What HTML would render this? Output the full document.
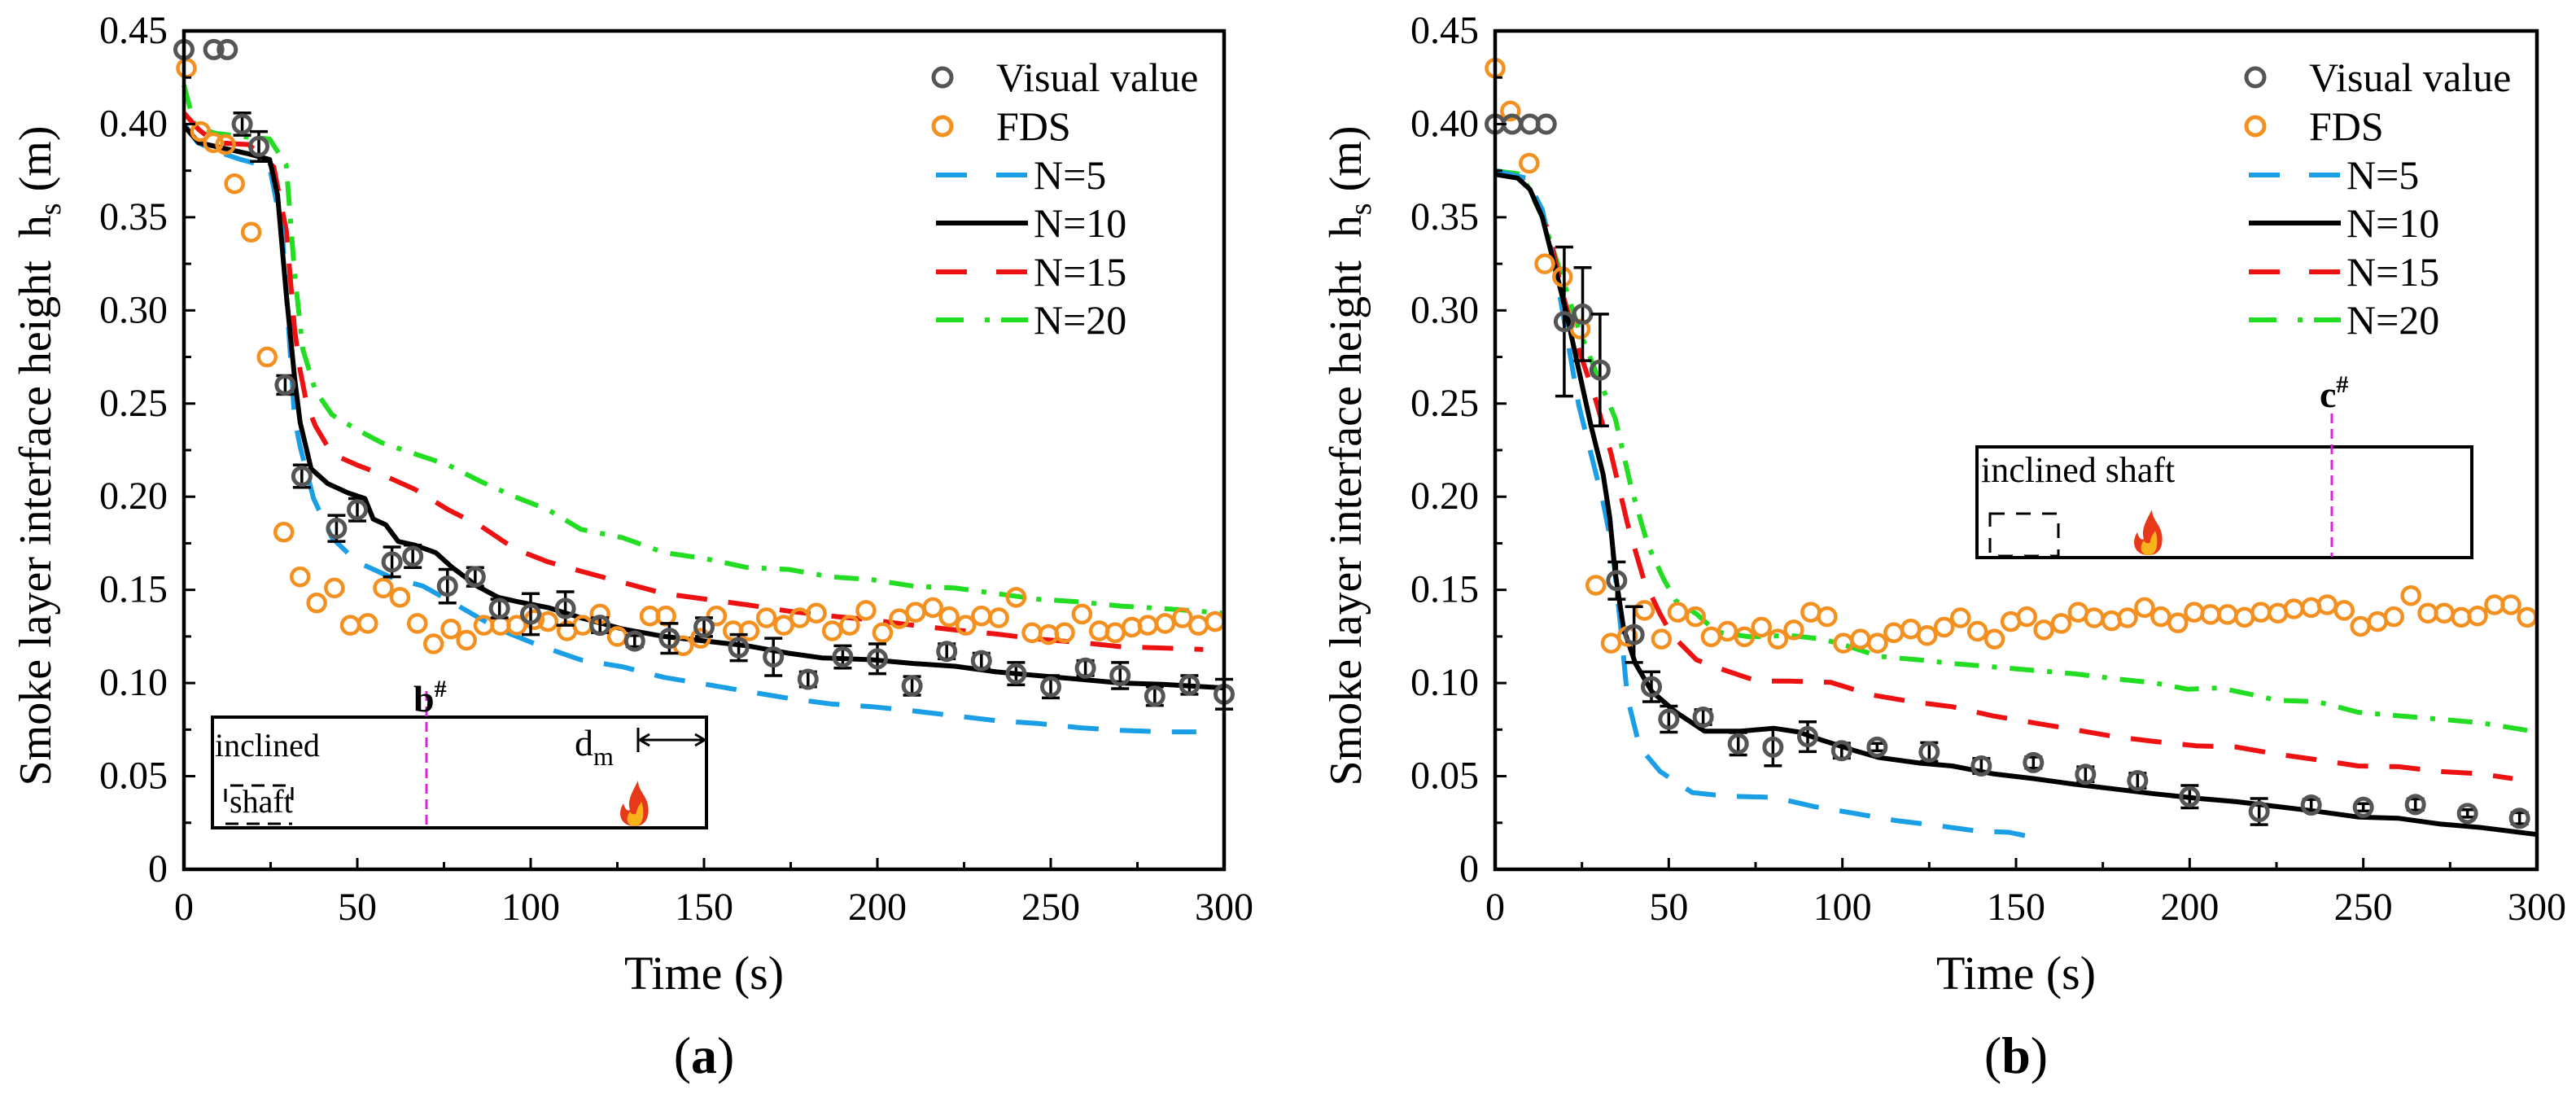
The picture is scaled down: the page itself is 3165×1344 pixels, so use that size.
<!DOCTYPE html>
<html><head><meta charset="utf-8"><style>
html,body{margin:0;padding:0;background:#fff;}
svg{display:block;font-family:"Liberation Serif",serif;}
text{font-family:"Liberation Serif",serif;}
</style></head><body>
<svg id="fig" width="3165" height="1344" viewBox="0 0 3165 1344" xmlns="http://www.w3.org/2000/svg" font-family="Liberation Serif, serif"></svg>
<script>
// ---------- Panel (a) data ----------
const aVisT=[0,8.6,12.5,16.8,21.6,29.2,34,44,50,60,66,76,84,91,100,110,120,130,140,150,160,170,180,190,200,210,220,230,240,250,260,270,280,290,300];
const aVisH=[0.44,0.44,0.44,0.40,0.388,0.26,0.211,0.183,0.193,0.165,0.168,0.152,0.157,0.140,0.137,0.140,0.131,0.1225,0.124,0.130,0.119,0.114,0.102,0.114,0.113,0.0985,0.117,0.112,0.105,0.098,0.108,0.104,0.093,0.099,0.094];
const aVisE=[0,0,0,0.006,0.008,0.005,0.006,0.007,0.006,0.008,0.006,0.009,0.005,0.005,0.011,0.009,0.004,0.003,0.008,0.005,0.007,0.01,0.004,0.006,0.008,0.005,0.004,0.004,0.006,0.006,0.004,0.007,0.005,0.005,0.008];
const aFdsT=[0.7,4.8,8.5,12,14.6,19.4,24,28.8,33.5,38.3,43.4,48,53,57.5,62.3,67.3,72,77,81.5,86.5,91.3,96,101,105,110.5,115,120,125,134.4,139,144,149,153.6,158.4,163,168,173,177.6,182.4,187,192,196.7,201.5,206.3,211,216,220.7,225.5,230,235,240,244.6,249.4,254,259,264,268.6,273.4,278,283,288,292.6,297.4];
const aFdsH=[0.43,0.396,0.39,0.389,0.368,0.342,0.275,0.181,0.157,0.143,0.151,0.131,0.132,0.151,0.146,0.132,0.121,0.129,0.123,0.131,0.131,0.131,0.134,0.133,0.128,0.131,0.137,0.125,0.136,0.136,0.120,0.124,0.136,0.128,0.128,0.135,0.131,0.135,0.1375,0.128,0.131,0.139,0.127,0.1345,0.138,0.1405,0.1356,0.131,0.136,0.135,0.146,0.127,0.126,0.127,0.137,0.128,0.127,0.130,0.131,0.132,0.135,0.131,0.133];
const aN5T=[0,4,10,16.3,24.7,28.3,30.2,31.9,33.5,37.4,42.7,49.9,59.4,69,78.6,90.6,102.6,114.5,126.5,138.5,150.5,162.4,174.4,186.4,198.4,210.4,222.4,234.3,246.3,258.3,270.3,282.3,292];
const aN5H=[0.40,0.39,0.385,0.381,0.377,0.343,0.29,0.242,0.227,0.199,0.178,0.165,0.157,0.152,0.142,0.129,0.12,0.1124,0.1087,0.103,0.0993,0.0955,0.0918,0.0888,0.0873,0.085,0.0824,0.0798,0.0783,0.076,0.0746,0.0738,0.0738];
const aN10T=[0,4.3,11.5,18.7,24.7,27,29.5,31.9,33.5,36.7,41.5,47.4,52.2,54.6,58.2,61.8,66.6,72.6,77.4,84.6,90.6,96.6,105,114.5,126.5,138.5,150.5,162.4,174.4,184,198.4,210.4,222.4,234.3,246.3,258.3,270.3,282.3,300];
const aN10H=[0.399,0.39,0.387,0.384,0.381,0.362,0.309,0.264,0.24,0.215,0.207,0.202,0.199,0.188,0.185,0.176,0.174,0.170,0.162,0.152,0.146,0.1435,0.1405,0.135,0.129,0.125,0.1225,0.12,0.116,0.1135,0.1125,0.1105,0.109,0.106,0.104,0.102,0.100,0.0993,0.0974];
const aN15T=[0,4.3,9.1,18.7,25.9,29.5,31.9,33.5,35.5,37.9,42.7,49.9,57,66.6,76.2,85.8,95.4,105,114.5,126.5,138.5,150.5,162.4,174.4,186.4,198.4,210.4,222.4,234.3,246.3,258.3,270.3,282.3,294];
const aN15H=[0.406,0.397,0.39,0.389,0.377,0.343,0.29,0.268,0.249,0.238,0.223,0.217,0.212,0.204,0.193,0.184,0.172,0.165,0.160,0.154,0.148,0.145,0.142,0.1386,0.136,0.1338,0.131,0.1285,0.1263,0.1236,0.1218,0.1195,0.1188,0.118];
const aN20T=[0,3.1,9.1,18.7,24.7,29.5,31.9,34.3,37.9,42.7,49.9,57,66.6,76.2,85.8,95.4,105,114.5,126.5,138.5,150.5,162.4,174.4,186.4,198.4,210.4,222.4,234.3,246.3,258.3,270.3,282.3,300];
const aN20H=[0.421,0.399,0.395,0.393,0.392,0.378,0.32,0.279,0.257,0.244,0.236,0.229,0.223,0.217,0.208,0.2,0.193,0.1825,0.178,0.170,0.1667,0.162,0.161,0.157,0.1555,0.152,0.151,0.148,0.145,0.1435,0.1413,0.14,0.1375];
// ---------- Panel (b) data ----------
const bVisT=[0,4.9,10,14.7,19.9,25.2,30.2,35,40,45,50,59.9,70,80,90,99.8,110,125,140,155,170,185,200,220,235,250,265,280,295];
const bVisH=[0.40,0.40,0.40,0.40,0.294,0.298,0.268,0.155,0.126,0.098,0.0806,0.0817,0.0674,0.0656,0.0712,0.0637,0.0656,0.063,0.0555,0.0573,0.051,0.0476,0.039,0.031,0.0345,0.0333,0.0348,0.030,0.0274];
const bVisE=[0,0,0,0,0.04,0.025,0.03,0.01,0.015,0.008,0.007,0.004,0.006,0.01,0.008,0.004,0.002,0.005,0.004,0.003,0.004,0.004,0.006,0.007,0.003,0.002,0.003,0.002,0.003];
const bFdsT=[0,4.4,9.8,14.3,19.4,24.5,29,33.4,38.1,43,47.9,52.6,57.7,62.2,66.9,71.8,76.7,81.4,86,90.9,95.6,100.3,105.2,110.1,114.8,119.7,124.4,129.3,134,138.9,143.8,148.5,153.1,158,163,167.9,172.5,177.5,182.1,187,191.7,196.6,201.3,206,210.9,215.8,220.5,225.4,230,235,239.6,244.5,249.2,254.1,258.8,263.7,268.6,273.3,278.2,282.9,287.8,292.5,297.2];
const bFdsH=[0.43,0.407,0.379,0.325,0.318,0.29,0.1525,0.1214,0.125,0.139,0.1236,0.138,0.1356,0.1248,0.1278,0.1248,0.130,0.1236,0.1285,0.138,0.1356,0.1214,0.1236,0.1214,0.127,0.129,0.1255,0.130,0.135,0.1278,0.1236,0.133,0.1356,0.1285,0.132,0.138,0.135,0.1334,0.135,0.1405,0.1356,0.1323,0.138,0.1368,0.1368,0.1353,0.138,0.1375,0.1398,0.1405,0.142,0.139,0.1304,0.133,0.1356,0.1469,0.1375,0.1375,0.1353,0.136,0.142,0.142,0.1353];
const bN5T=[0,8.9,13.6,17.1,20.6,24.1,27.6,31.1,33.9,36.2,38.1,41.6,47.5,56.8,66.2,80.2,91.9,103.6,115.3,127,138.6,148,153.8];
const bN5H=[0.375,0.371,0.354,0.324,0.287,0.249,0.223,0.197,0.1705,0.129,0.092,0.0656,0.0525,0.0412,0.0393,0.0386,0.0337,0.030,0.0262,0.0236,0.0206,0.0199,0.0176];
const bN10T=[0,6.5,10,13.6,17.1,20.6,24.1,27.6,31.1,33,34.6,37,40.4,45.1,52.1,60.3,70.8,80.2,87.2,94.2,103.6,110.6,122.3,131.6,143.3,155,166.7,178.4,190.1,201.8,213.5,225.2,236.8,248.5,260.2,271.9,283.6,300];
const bN10H=[0.373,0.371,0.365,0.350,0.324,0.298,0.268,0.238,0.212,0.189,0.159,0.129,0.1105,0.0955,0.0843,0.0742,0.0742,0.0757,0.0738,0.0693,0.0637,0.060,0.057,0.0555,0.0513,0.0487,0.0457,0.0431,0.0405,0.0382,0.0363,0.0337,0.0311,0.0281,0.0274,0.0244,0.0225,0.0187];
const bN15T=[0,7.7,12.4,15.9,19.4,24.1,28.8,33.4,38.1,42.8,47.5,51,58,66.2,75.5,84.9,96.6,108.2,119.9,131.6,143.3,155,166.7,178.4,190.1,201.8,213.5,225.2,236.8,248.5,260.2,271.9,283.6,293];
const bN15H=[0.375,0.371,0.358,0.339,0.309,0.279,0.253,0.223,0.1855,0.1555,0.137,0.1255,0.1124,0.1068,0.101,0.101,0.1004,0.0937,0.090,0.0873,0.0824,0.0787,0.075,0.0712,0.0686,0.0663,0.0656,0.0618,0.0588,0.0555,0.0551,0.0525,0.0513,0.0487];
const bN20T=[0,7.7,13.6,18.2,24.1,28.8,34.6,39.3,44,48.6,52.1,58,63.8,73.2,84.9,94.2,101.2,110.6,122.3,131.6,143.3,155,166.7,178.4,190.1,199.4,208.8,218.1,225.2,236.8,248.5,260.2,271.9,283.6,300];
const bN20H=[0.375,0.373,0.350,0.324,0.29,0.268,0.242,0.204,0.174,0.1555,0.144,0.137,0.1274,0.1248,0.1255,0.1236,0.120,0.1143,0.1124,0.1105,0.1087,0.1068,0.105,0.1023,0.100,0.0967,0.0974,0.0937,0.0907,0.090,0.0843,0.0824,0.0806,0.0787,0.0738];
const xTicks=[0,50,100,150,200,250,300];
const yTicks=[0,0.05,0.10,0.15,0.20,0.25,0.30,0.35,0.40,0.45];
const yTickLabels=["0","0.05","0.10","0.15","0.20","0.25","0.30","0.35","0.40","0.45"];
const legendLabels=["Visual value","FDS","N=5","N=10","N=15","N=20"];

const NS="http://www.w3.org/2000/svg";
const svg=document.getElementById('fig');
const FF='Liberation Serif, serif';
function mk(tag,attrs,parent){const e=document.createElementNS(NS,tag);for(const k in attrs)e.setAttribute(k,attrs[k]);if(tag==='text')e.setAttribute('font-family',FF);(parent||svg).appendChild(e);return e;}

const BLUE="#1a9fe6",RED="#ee1111",GREEN="#22dd22",ORANGE="#f39020",GRAY="#555555";
const Y0=1068,Y1=38;

function panel(p){
  const g=mk('g',{});
  
  
  const X=t=>p.x0+(p.x1-p.x0)*t/300;
  const Y=h=>Y0-(Y0-Y1)*h/0.45;
  function line(T,H,color,dash,name){
    let d='';T.forEach((t,i)=>{d+=(i?'L':'M')+X(t).toFixed(1)+' '+Y(H[i]).toFixed(1);});
    const l=mk('path',{d:d,fill:'none',stroke:color,'stroke-width':6,'stroke-dasharray':dash,'stroke-linejoin':'round'},g);
    
    
  }
  line(p.n20T,p.n20H,GREEN,'30 16 6 16','series-n20');
  line(p.n15T,p.n15H,RED,'38 26','series-n15');
  line(p.n5T,p.n5H,BLUE,'38 26','series-n5');
  line(p.n10T,p.n10H,'#000','none','series-n10');
  p.fT.forEach((t,i)=>{
    const c=mk('circle',{cx:X(t),cy:Y(p.fH[i]),r:10.5,fill:'none',stroke:ORANGE,'stroke-width':4.5},g);
    
    
  });
  p.vT.forEach((t,i)=>{
    const cx=X(t),cy=Y(p.vH[i]),e=p.vE[i];
    if(e>0){
      const eb=mk('path',{d:`M${cx} ${Y(p.vH[i]+e)}V${Y(p.vH[i]-e)}M${cx-11} ${Y(p.vH[i]+e)}h22M${cx-11} ${Y(p.vH[i]-e)}h22`,stroke:'#000','stroke-width':3.5,fill:'none'},g);
      
      
    }
    const c=mk('circle',{cx:cx,cy:cy,r:10.5,fill:'none',stroke:GRAY,'stroke-width':5},g);
    
    
  });
  const fr=mk('rect',{x:p.x0,y:Y1,width:p.x1-p.x0,height:Y0-Y1,fill:'none',stroke:'#000','stroke-width':4.5},g);
  
  
  for(let v=0;v<=300;v+=25){
    const len=(v%50===0)?14:9;
    const tk=mk('path',{d:`M${X(v)} ${Y0}v${-len}`,stroke:'#000','stroke-width':3},g);
    
    
  }
  for(let k=0;k<=18;k++){
    const v=k*0.025,len=(k%2===0)?14:9;
    const tk=mk('path',{d:`M${p.x0} ${Y(v)}h${len}`,stroke:'#000','stroke-width':3},g);
    
    
  }
  xTicks.forEach(v=>{
    const t=mk('text',{x:X(v),y:1130,'font-size':48,'text-anchor':'middle'},g);t.textContent=v;
    
    
  });
  yTicks.forEach((v,i)=>{
    const t=mk('text',{x:p.x0-20,y:Y(v)+15,'font-size':48,'text-anchor':'end'},g);t.textContent=yTickLabels[i];
    
    
  });
  const xt=mk('text',{x:(p.x0+p.x1)/2,y:1215,'font-size':58,'text-anchor':'middle'},g);xt.textContent='Time (s)';
  
  
  const yt=mk('text',{x:0,y:0,'font-size':56,'text-anchor':'middle',transform:`translate(${p.ylx},560) rotate(-90)`},g);
  yt.innerHTML='Smoke layer interface height&#160; h<tspan font-size="38" dy="12">s</tspan><tspan dy="-12"> (m)</tspan>';
  
  
  const pl=mk('text',{x:(p.x0+p.x1)/2,y:1318,'font-size':64,'text-anchor':'middle'},g);
  pl.innerHTML='(<tspan font-weight="bold">'+p.letter+'</tspan>)';
  
  
  const rows=[95,155,215,274,334,393];
  const lg=mk('g',{},g);
  
  
  const styles=[null,null,[BLUE,'38 36'],['#000','none'],[RED,'38 36'],[GREEN,'34 26 6 14']];
  legendLabels.forEach((lab,i)=>{
    const y=rows[i];
    if(i<2){
      const c=mk('circle',{cx:p.lgx+8,cy:y,r:11,fill:'none',stroke:i?ORANGE:GRAY,'stroke-width':5},lg);
      
      
      const t=mk('text',{x:p.lgx+74,y:y+17,'font-size':50},lg);t.textContent=lab;
      
      
    }else{
      const l=mk('path',{d:`M${p.lgx} ${y}h113`,stroke:styles[i][0],'stroke-width':6,'stroke-dasharray':styles[i][1]},lg);
      
      
      const t=mk('text',{x:p.lgx+120,y:y+17,'font-size':50},lg);t.textContent=lab;
      
      
    }
  });
  return g;
}

function fire(x,y,parent){
  const f=mk('g',{transform:`translate(${x},${y})`},parent);
  
  
  mk('path',{d:'M0 22C-18 22-22 6-14-6C-12 2-8 4-6 2C-10-10-2-22 4-34C4-22 14-16 16-4C18 6 16 22 0 22Z',fill:'#e8381a'},f);
  mk('path',{d:'M0 22C-10 22-12 12-6 4C-4 8 0 8 2 6C2 0 6-4 8-8C12 2 12 22 0 22Z',fill:'#f7b21c'},f);
}

panel({name:'panel-a',x0:226,x1:1504,letter:'a',ylx:62,lgx:1150,
  vT:aVisT,vH:aVisH,vE:aVisE,fT:aFdsT,fH:aFdsH,n5T:aN5T,n5H:aN5H,n10T:aN10T,n10H:aN10H,n15T:aN15T,n15H:aN15H,n20T:aN20T,n20H:aN20H});
panel({name:'panel-b',x0:1837,x1:3117,letter:'b',ylx:1672,lgx:2763,
  vT:bVisT,vH:bVisH,vE:bVisE,fT:bFdsT,fH:bFdsH,n5T:bN5T,n5H:bN5H,n10T:bN10T,n10H:bN10H,n15T:bN15T,n15H:bN15H,n20T:bN20T,n20H:bN20H});

const ia=mk('g',{});


mk('rect',{x:261,y:881,width:607,height:136,fill:'#fff',stroke:'#000','stroke-width':4},ia);
let t=mk('text',{x:264,y:929,'font-size':40},ia);t.textContent='inclined';


mk('path',{d:'M277 985v-20h82v20M277 1012h82',fill:'none',stroke:'#000','stroke-width':3,'stroke-dasharray':'16 10'},ia);
t=mk('text',{x:282,y:998,'font-size':40},ia);t.textContent='shaft';


mk('path',{d:'M524 849V1016',stroke:'#dd22dd','stroke-width':3,'stroke-dasharray':'12 7'},ia);
t=mk('text',{x:508,y:874,'font-size':46,'font-weight':'bold'},ia);t.innerHTML='b<tspan font-size="30" dy="-18">#</tspan>';


t=mk('text',{x:706,y:928,'font-size':46},ia);t.innerHTML='d<tspan font-size="32" dy="12">m</tspan>';


mk('path',{d:'M784 894v30M786 909h80M786 909l12-7M786 909l12 7M866 909l-12-7M866 909l-12 7',stroke:'#000','stroke-width':3,fill:'none'},ia);
fire(780,993,ia);

const ib=mk('g',{});


mk('rect',{x:2429,y:549,width:608,height:136,fill:'none',stroke:'#000','stroke-width':4},ib);
t=mk('text',{x:2434,y:592,'font-size':44},ib);t.textContent='inclined shaft';


mk('rect',{x:2445,y:631,width:84,height:52,fill:'none',stroke:'#000','stroke-width':3,'stroke-dasharray':'18 14'},ib);
mk('path',{d:'M2865 508V684',stroke:'#dd22dd','stroke-width':3,'stroke-dasharray':'12 7'},ib);
t=mk('text',{x:2850,y:500,'font-size':46,'font-weight':'bold'},ib);t.innerHTML='c<tspan font-size="30" dy="-18">#</tspan>';


fire(2640,660,ib);
</script>
</body></html>
